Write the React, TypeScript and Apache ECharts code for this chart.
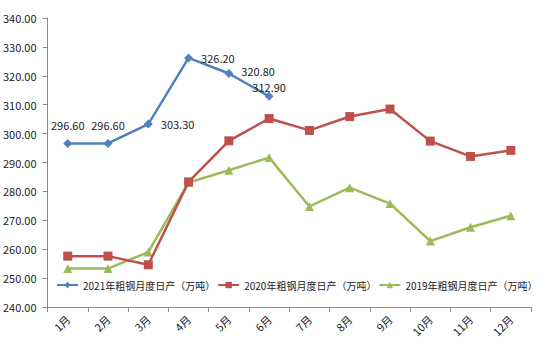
import React, { useEffect, useRef } from "react";
import * as echarts from "echarts";

const months = ["1月", "2月", "3月", "4月", "5月", "6月", "7月", "8月", "9月", "10月", "11月", "12月"];
const s2021 = [296.6, 296.6, 303.3, 326.2, 320.8, 312.9];
const s2020 = [257.6, 257.6, 254.6, 283.3, 297.5, 305.2, 301.1, 305.9, 308.5, 297.4, 292.1, 294.2];
const s2019 = [253.3, 253.3, 259.0, 283.1, 287.3, 291.7, 274.8, 281.3, 275.8, 262.8, 267.6, 271.6];
const labelPos2021 = ["top", "top", "right", "right", "right", "top"];
const names = ["2021年粗钢月度日产（万吨）", "2020年粗钢月度日产（万吨）", "2019年粗钢月度日产（万吨）"];

const FONT = "'Noto Sans CJK SC', 'Noto Sans', sans-serif";

export default function App() {
  const ref = useRef<HTMLDivElement>(null);
  useEffect(() => {
    const chart = echarts.init(ref.current!, undefined, { renderer: "svg" });
    chart.setOption({
      animation: false,
      textStyle: { fontFamily: FONT },
      grid: { left: 47, right: 19, top: 18, bottom: 52 },
      legend: {
        left: 51,
        top: 275,
        width: 499,
        itemWidth: 21,
        itemHeight: 8,
        itemGap: 2,
        textStyle: { fontSize: 10, color: "#222", fontFamily: FONT },
        data: names,
      },
      xAxis: {
        type: "category",
        data: months,
        boundaryGap: true,
        axisLine: { lineStyle: { color: "#8c8c8c", width: 1 } },
        axisTick: { show: true, alignWithLabel: false, length: 5, lineStyle: { color: "#8c8c8c" } },
        axisLabel: { rotate: 45, fontSize: 11, color: "#222", margin: 10, fontFamily: FONT },
        splitLine: { show: false },
      },
      yAxis: {
        type: "value",
        min: 240,
        max: 340,
        interval: 10,
        axisLine: { show: true, lineStyle: { color: "#8c8c8c", width: 1 } },
        axisTick: { show: true, length: 5, lineStyle: { color: "#8c8c8c" } },
        axisLabel: {
          fontSize: 11,
          color: "#222",
          margin: 11,
          fontFamily: FONT,
          formatter: (v: number) => v.toFixed(2),
        },
        splitLine: { show: false },
      },
      series: [
        {
          name: names[0],
          type: "line",
          data: s2021.map((v, i) => ({
            value: v,
            label: {
              position: labelPos2021[i],
              distance: i === 5 ? 0 : 8,
              offset: i === 4 ? [0, -2] : i === 5 ? [0, 1] : [0, 0],
            },
          })),
          symbol: "diamond",
          symbolSize: 9,
          lineStyle: { color: "#4F81BD", width: 2.5 },
          itemStyle: { color: "#4F81BD" },
          label: {
            show: true,
            formatter: (p: any) => Number(p.value).toFixed(2),
            fontSize: 11,
            color: "#222",
            fontFamily: FONT,
          },
          z: 3,
        },
        {
          name: names[1],
          type: "line",
          data: s2020,
          symbol: "rect",
          symbolSize: 9,
          lineStyle: { color: "#C0504D", width: 2.5 },
          itemStyle: { color: "#C0504D" },
          z: 2,
        },
        {
          name: names[2],
          type: "line",
          data: s2019,
          symbol: "triangle",
          symbolSize: 9,
          lineStyle: { color: "#9BBB59", width: 2.5 },
          itemStyle: { color: "#9BBB59" },
          z: 1,
        },
      ],
    });
    return () => chart.dispose();
  }, []);
  return <div ref={ref} style={{ width: 550, height: 359, position: "absolute", left: 0, top: 0 }} />;
}
